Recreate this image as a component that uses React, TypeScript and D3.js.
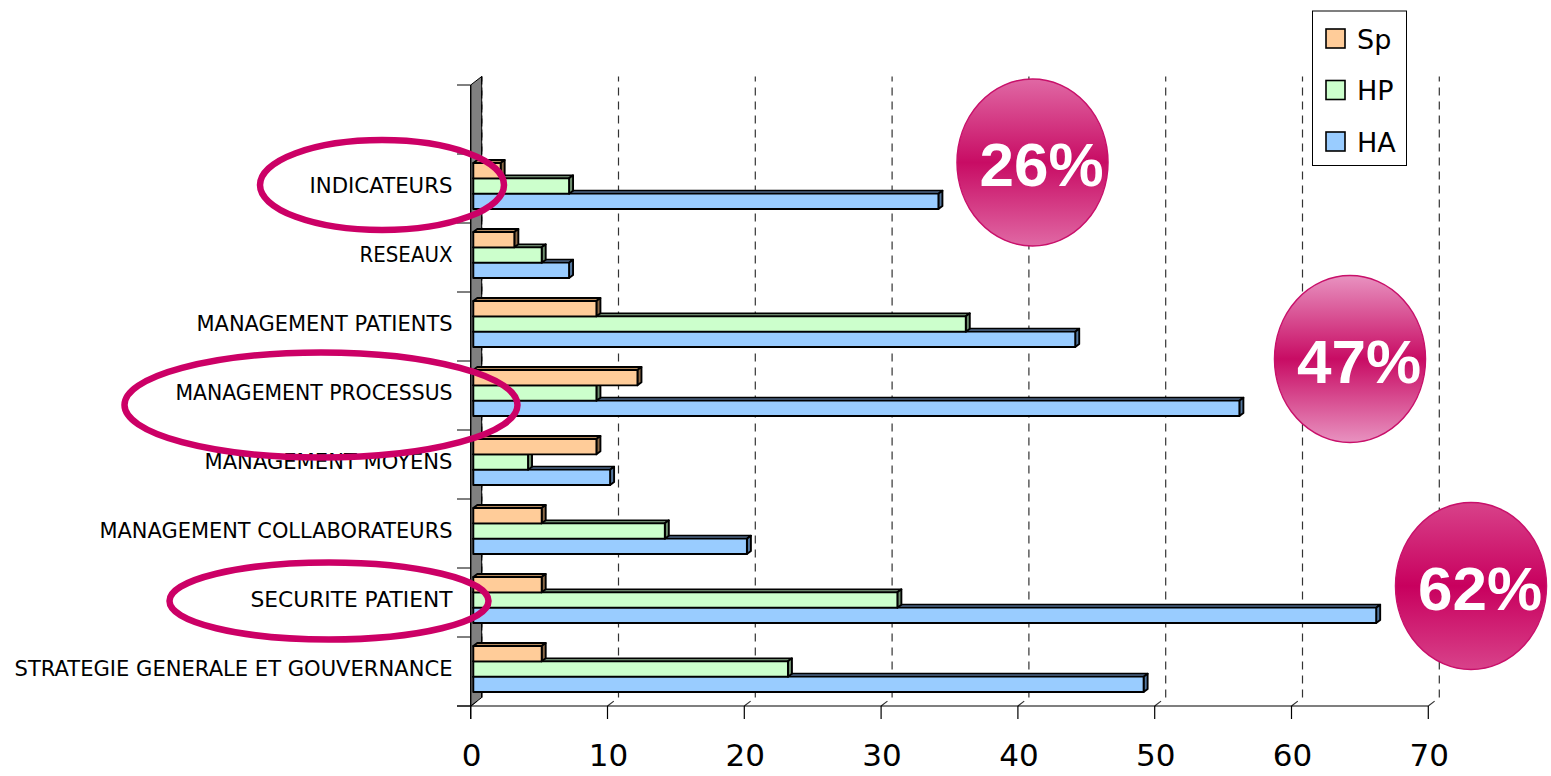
import React from "react";
import * as d3 from "d3";

// Categories listed bottom to top; the topmost slot is an empty row.
const categories = [
  "STRATEGIE GENERALE ET GOUVERNANCE",
  "SECURITE PATIENT",
  "MANAGEMENT COLLABORATEURS",
  "MANAGEMENT MOYENS",
  "MANAGEMENT PROCESSUS",
  "MANAGEMENT PATIENTS",
  "RESEAUX",
  "INDICATEURS",
  "",
];

const seriesNames = ["Sp", "HP", "HA"];
const spValues = [5, 5, 5, 9, 12, 9, 3, 2, 0];
const hpValues = [23, 31, 14, 4, 9, 36, 5, 7, 0];
const haValues = [49, 66, 20, 10, 56, 44, 7, 34, 0];

const xTicks = [0, 10, 20, 30, 40, 50, 60, 70];

const highlighted = ["INDICATEURS", "MANAGEMENT PROCESSUS", "SECURITE PATIENT"];
const badgeLabels = ["26%", "47%", "62%"];

const W = 1551;
const H = 776;

// chart frame
const FRONT_LEFT = 470.7;
const FRONT_BOTTOM = 706;
const FRONT_TOP = 85;
const DEPTH_X = 11;
const DEPTH_Y = -8.5;
const BAR_DX = 4;
const BAR_DY = -3;

const fills: Record<string, string> = { Sp: "#ffcc99", HP: "#ccffcc", HA: "#99ccff" };
const tops: Record<string, string> = { Sp: "#b58a5e", HP: "#8fb08f", HA: "#6f93c2" };
const sides: Record<string, string> = { Sp: "#8c6a48", HP: "#6f8f6f", HA: "#54779f" };

const labelWidths: Record<string, number> = {
  "STRATEGIE GENERALE ET GOUVERNANCE": 438,
  "SECURITE PATIENT": 202,
  "MANAGEMENT COLLABORATEURS": 353,
  "MANAGEMENT MOYENS": 248,
  "MANAGEMENT PROCESSUS": 277,
  "MANAGEMENT PATIENTS": 256,
  RESEAUX: 93,
  INDICATEURS: 143,
};

// highlight ring geometry per label
const rings: Record<string, { cx: number; cy: number; rx: number; ry: number }> = {
  INDICATEURS: { cx: 382, cy: 185, rx: 122, ry: 45 },
  "MANAGEMENT PROCESSUS": { cx: 321, cy: 405, rx: 196.5, ry: 52.5 },
  "SECURITE PATIENT": { cx: 329, cy: 601, rx: 159.5, ry: 38.5 },
};

const badges = [
  { cx: 1032.5, cy: 162.5, top: "#e068a4", mid: "#c80c64" },
  { cx: 1350, cy: 359, top: "#e892c0", mid: "#c80c64" },
  { cx: 1471, cy: 586, top: "#d8428a", mid: "#c8005e" },
];

export default function App() {
  const xFront = d3.scaleLinear().domain([0, 70]).range([FRONT_LEFT, FRONT_LEFT + 957.6]);
  const xBar = d3.scaleLinear().domain([0, 70]).range([473.3, 473.3 + 957.6]);

  // band order: index 0 at bottom
  const yBand = d3
    .scaleBand<number>()
    .domain(d3.range(categories.length).reverse())
    .range([FRONT_TOP, FRONT_BOTTOM]);
  const slot = yBand.bandwidth();
  const groupH = 46;
  const sub = d3.scaleBand<string>().domain(seriesNames).range([0, groupH]);

  const valuesBySeries: Record<string, number[]> = { Sp: spValues, HP: hpValues, HA: haValues };

  const bars: React.ReactNode[] = [];
  categories.forEach((cat, i) => {
    if (!cat) return;
    const gTop = (yBand(i) as number) + 9;
    // draw from bottom series upwards so upper bars cover lower top faces
    [...seriesNames].reverse().forEach((s) => {
      const v = valuesBySeries[s][i];
      const y0 = gTop + (sub(s) as number);
      const h = sub.bandwidth();
      const x0 = xBar(0);
      const x1 = xBar(v);
      bars.push(
        <g key={`${i}-${s}`} stroke="#000" strokeWidth={1.9} strokeLinejoin="round">
          <polygon
            points={`${x0},${y0} ${x0 + BAR_DX},${y0 + BAR_DY} ${x1 + BAR_DX},${y0 + BAR_DY} ${x1},${y0}`}
            fill={tops[s]}
          />
          <polygon
            points={`${x1},${y0} ${x1 + BAR_DX},${y0 + BAR_DY} ${x1 + BAR_DX},${y0 + h + BAR_DY} ${x1},${y0 + h}`}
            fill={sides[s]}
          />
          <rect x={x0} y={y0} width={x1 - x0} height={h} fill={fills[s]} />
        </g>
      );
    });
  });

  const catTicks = d3.range(categories.length + 1).map((k) => FRONT_TOP + k * slot);

  return (
    <svg
      width={W}
      height={H}
      style={{ position: "absolute", left: 0, top: 0, background: "#fff" }}
      fontFamily="'DejaVu Sans', sans-serif"
    >
      <defs>
        {badges.map((b, k) => (
          <linearGradient key={k} id={`badge${k}`} x1="0" y1="0" x2="0" y2="1">
            <stop offset="0" stopColor={b.top} />
            <stop offset="0.5" stopColor={b.mid} />
            <stop offset="1" stopColor={b.top} />
          </linearGradient>
        ))}
      </defs>

      {/* back-wall gridlines with their floor runs */}
      {xTicks.map((t) => {
        const fx = xFront(t);
        const bx = fx + DEPTH_X;
        return (
          <polyline
            key={`g${t}`}
            points={`${fx},${FRONT_BOTTOM} ${bx},${FRONT_BOTTOM + DEPTH_Y} ${bx},${FRONT_TOP + DEPTH_Y}`}
            fill="none"
            stroke={t === 0 ? "#000" : "#333"}
            strokeWidth={1.2}
            strokeDasharray="8,6"
          />
        );
      })}

      {/* side wall */}
      <polygon
        points={`${FRONT_LEFT},${FRONT_TOP} ${FRONT_LEFT + DEPTH_X},${FRONT_TOP + DEPTH_Y} ${FRONT_LEFT + DEPTH_X},${FRONT_BOTTOM + DEPTH_Y} ${FRONT_LEFT},${FRONT_BOTTOM}`}
        fill="#808080"
        stroke="#000"
        strokeWidth={1}
      />
      <line
        x1={FRONT_LEFT + DEPTH_X}
        x2={FRONT_LEFT + DEPTH_X}
        y1={FRONT_TOP + DEPTH_Y}
        y2={FRONT_BOTTOM + DEPTH_Y}
        stroke="#000"
        strokeWidth={1.2}
        strokeDasharray="8,6"
      />

      {/* category axis */}
      <line x1={FRONT_LEFT} x2={FRONT_LEFT} y1={FRONT_TOP} y2={FRONT_BOTTOM + 13} stroke="#000" strokeWidth={1.2} />
      {catTicks.map((ty, k) => (
        <line key={`ct${k}`} x1={457} x2={FRONT_LEFT} y1={ty} y2={ty} stroke="#000" strokeWidth={1} />
      ))}

      {/* value axis */}
      <line x1={457} x2={xFront(70)} y1={FRONT_BOTTOM} y2={FRONT_BOTTOM} stroke="#000" strokeWidth={1.2} />
      {xTicks.map((t) => (
        <g key={`xt${t}`}>
          <line x1={xFront(t)} x2={xFront(t)} y1={FRONT_BOTTOM} y2={FRONT_BOTTOM + 13} stroke="#000" strokeWidth={1.2} />
          <text x={xFront(t) + 1} y={765.5} textAnchor="middle" fontSize={31} fill="#000">
            {t}
          </text>
        </g>
      ))}

      {bars}

      {/* category labels */}
      {categories.map((cat, i) =>
        cat ? (
          <text
            key={`lab${i}`}
            x={452.5}
            y={(yBand(i) as number) + slot / 2 + 4.8}
            textAnchor="end"
            fontSize={20.5}
            fill="#000"
            textLength={labelWidths[cat]}
            lengthAdjust="spacingAndGlyphs"
          >
            {cat}
          </text>
        ) : null
      )}

      {/* highlight rings */}
      {highlighted.map((cat) => {
        const r = rings[cat];
        return (
          <ellipse key={`ring${cat}`} cx={r.cx} cy={r.cy} rx={r.rx} ry={r.ry} fill="none" stroke="#cc0066" strokeWidth={6.5} />
        );
      })}

      {/* share badges */}
      {badges.map((b, k) => (
        <g key={`badge${k}`}>
          <ellipse cx={b.cx} cy={b.cy} rx={75.5} ry={83.5} fill={`url(#badge${k})`} stroke="#c8106a" strokeWidth={1.5} />
          <text
            x={b.cx + 9}
            y={b.cy + 23.5}
            textAnchor="middle"
            fontFamily="'Liberation Sans', Arial, sans-serif"
            fontWeight="bold"
            fontSize={62}
            fill="#fff"
          >
            {badgeLabels[k]}
          </text>
        </g>
      ))}

      {/* legend */}
      <rect x={1312.5} y={11} width={94} height={154.5} fill="#fff" stroke="#000" strokeWidth={1} />
      {seriesNames.map((s, k) => {
        const cy = 38.5 + k * 51.5;
        return (
          <g key={`leg${s}`}>
            <rect x={1326} y={cy - 9.5} width={19} height={19} fill={fills[s]} stroke="#000" strokeWidth={1.6} />
            <text x={1357} y={cy + 10} fontSize={27} fill="#000">
              {s}
            </text>
          </g>
        );
      })}
    </svg>
  );
}
